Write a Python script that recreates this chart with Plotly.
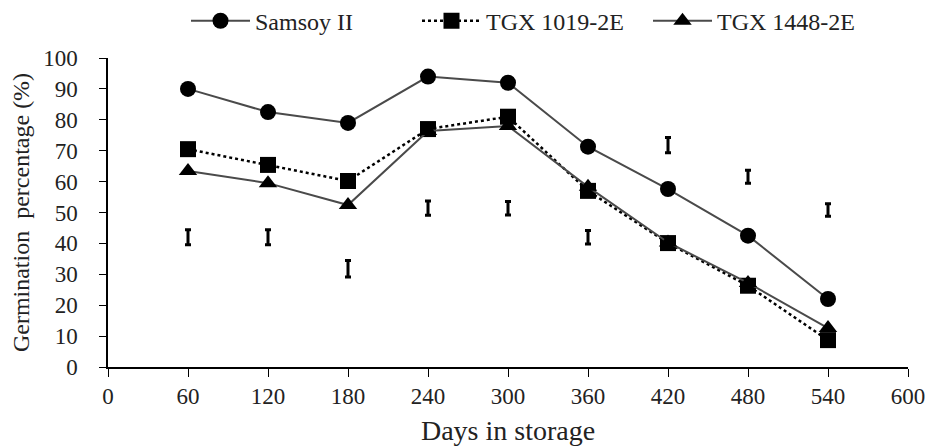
import plotly.graph_objects as go

days = [60, 120, 180, 240, 300, 360, 420, 480, 540]
samsoy = [90, 82.5, 79, 94, 92, 71.3, 57.6, 42.5, 22]
tgx1019 = [70.5, 65.4, 60.2, 77, 81, 57, 40.1, 26.3, 8.7]
tgx1448 = [63.4, 59.5, 52.4, 76.4, 78, 58.3, 40.3, 27.2, 12.6]
lsd_center = [42, 42, 31.8, 51.4, 51.4, 42, 71.8, 61.6, 50.8]
lsd_half = [2.4, 2.4, 2.7, 2.3, 2.2, 2.2, 2.5, 2.1, 2.0]

fig = go.Figure()
line_col = "#4a4a4a"
fig.add_trace(go.Scatter(x=days, y=samsoy, name="Samsoy II", mode="lines+markers",
                         line=dict(color=line_col, width=2),
                         marker=dict(symbol="circle", size=16, color="black")))
fig.add_trace(go.Scatter(x=days, y=tgx1019, name="TGX 1019-2E", mode="lines+markers",
                         line=dict(color="black", width=2.5, dash="dot"),
                         marker=dict(symbol="square", size=16, color="black")))
fig.add_trace(go.Scatter(x=days, y=tgx1448, name="TGX 1448-2E", mode="lines+markers",
                         line=dict(color=line_col, width=2),
                         marker=dict(symbol="triangle-up", size=16, color="black")))
fig.add_trace(go.Scatter(x=days, y=lsd_center, mode="markers", showlegend=False,
                         marker=dict(size=1, color="rgba(0,0,0,0)"),
                         error_y=dict(type="data", array=lsd_half, color="black",
                                      thickness=3, width=3),
                         hoverinfo="skip"))

font = dict(family="Liberation Serif, Times New Roman, serif", size=23, color="#222")
# page body has an 8px default margin, so the figure is drawn 8px in from the corner
fig.update_layout(
    width=929, height=438,
    margin=dict(l=100, r=29, t=50, b=79, autoexpand=False),
    paper_bgcolor="white", plot_bgcolor="white",
    font=font,
    legend=dict(orientation="h", x=0.0975, xanchor="left", y=0.97, yanchor="middle",
                yref="container", font=dict(size=24), itemwidth=59,
                entrywidth=157, entrywidthmode="pixels",
                tracegroupgap=0, bgcolor="rgba(0,0,0,0)"),
    showlegend=True,
)
fig.update_xaxes(range=[0, 600], tickmode="array", tickvals=list(range(0, 601, 60)),
                 showline=True, linecolor="black", linewidth=1.5, ticks="outside",
                 ticklen=8, tickcolor="black", showgrid=False, zeroline=False,
                 automargin=False,
                 title=dict(text="Days in storage", standoff=14))
fig.update_yaxes(range=[0, 100], tickmode="array", tickvals=list(range(0, 101, 10)),
                 showline=True, linecolor="black", linewidth=1.5, ticks="outside",
                 ticklen=7, tickcolor="black", showgrid=False, zeroline=False,
                 automargin=False, ticklabelstandoff=17,
                 title=dict(text="Germination  percentage (%)", standoff=12,
                            font=dict(size=24)))

fig.write_html("out.html")
